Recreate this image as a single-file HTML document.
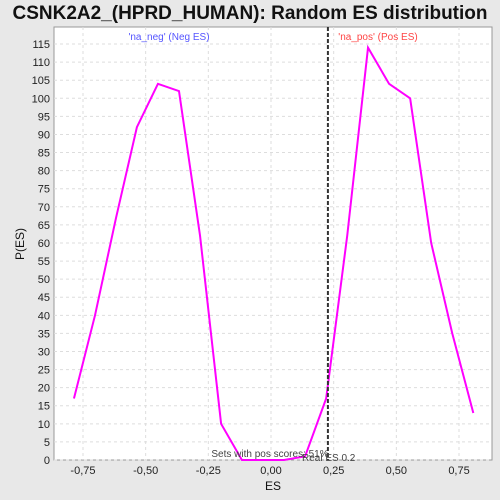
<!DOCTYPE html><html><head><style>html,body{margin:0;width:500px;height:500px;overflow:hidden;background:#e8e8e8;font-family:"Liberation Sans",sans-serif}svg{display:block}</style></head><body>
<svg width="500" height="500" id="c" font-family="Liberation Sans, sans-serif"></svg>
<script>
const xs=[-0.786,-0.702,-0.618,-0.535,-0.451,-0.367,-0.283,-0.199,-0.116,-0.032,0.052,0.136,0.220,0.304,0.387,0.471,0.555,0.639,0.723,0.807];
const ys=[17,40,67,92,104,102,62,10,0,0,0,1,17,62,114,104,100,60,35,13];
const xTicks=[-0.75,-0.5,-0.25,0,0.25,0.5,0.75];
const xTickLabels=["-0,75","-0,50","-0,25","0,00","0,25","0,50","0,75"];
const realES=0.227;
const L=54,R=492,T=27,B=460;
const X=v=>271+v*250.7, Y=v=>460-v*3.617;
const s=document.getElementById('c');const NS='http://www.w3.org/2000/svg';
function mk(t,a,txt){const e=document.createElementNS(NS,t);for(const k in a)e.setAttribute(k,a[k]);if(txt!=null)e.textContent=txt;s.appendChild(e);return e;}
let e;
e=mk('rect',{x:L,y:T,width:R-L,height:B-T,fill:'#fff',stroke:'#999'});


for(let v=0;v<=115;v+=5){e=mk('line',{x1:L,x2:R,y1:Y(v),y2:Y(v),stroke:'#ddd','stroke-dasharray':'3,3'});


e=mk('text',{x:L-4,y:Y(v)+4,'text-anchor':'end','font-size':11,fill:'#222'},v);

}
xTicks.forEach((v,i)=>{e=mk('line',{x1:X(v),x2:X(v),y1:T,y2:B,stroke:'#ddd','stroke-dasharray':'3,3'});


e=mk('text',{x:X(v),y:B+14,'text-anchor':'middle','font-size':11,fill:'#222'},xTickLabels[i]);

});
e=mk('polyline',{points:xs.map((x,i)=>X(x)+','+Y(ys[i])).join(' '),fill:'none',stroke:'#f0f','stroke-width':2});


e=mk('line',{x1:X(realES),x2:X(realES),y1:T,y2:B,stroke:'#333','stroke-width':2,'stroke-dasharray':'4,2'});


e=mk('text',{x:250,y:19,'text-anchor':'middle','font-size':19,'font-weight':'bold',fill:'#111'},'CSNK2A2_(HPRD_HUMAN): Random ES distribution');


e=mk('text',{x:169,y:40,'text-anchor':'middle','font-size':10,fill:'#55f'},"'na_neg' (Neg ES)");


e=mk('text',{x:378,y:40,'text-anchor':'middle','font-size':10,fill:'#f44'},"'na_pos' (Pos ES)");


e=mk('text',{x:270,y:457,'text-anchor':'middle','font-size':10,fill:'#444'},'Sets with pos scores: 51%');


e=mk('text',{x:302,y:461,'font-size':10,fill:'#444'},'Real ES 0.2');


e=mk('text',{x:273,y:490,'text-anchor':'middle','font-size':12,fill:'#111'},'ES');


e=mk('text',{x:24,y:244,'text-anchor':'middle','font-size':12,fill:'#111',transform:'rotate(-90 24 244)'},'P(ES)');


</script></body></html>
